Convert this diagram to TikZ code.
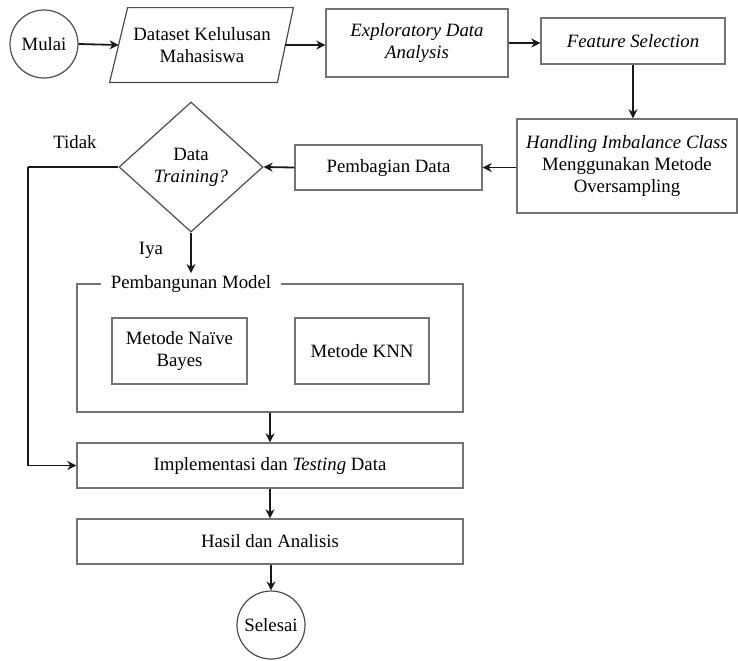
\documentclass[tikz,border=0pt]{standalone}
\usepackage{fontspec}
\setmainfont{LiberationSerif}[Extension=.ttf, UprightFont=*-Regular, ItalicFont=*-Italic, BoldFont=*-Bold, BoldItalicFont=*-BoldItalic]
\usetikzlibrary{shapes.geometric,arrows.meta,calc}
\tikzset{
  box/.style={draw=black!55, line width=0.7pt, rectangle, align=center, inner sep=0pt},
  plain/.style={rectangle, align=center, inner sep=0pt},
  term/.style={draw=black!70, line width=0.6pt, circle, inner sep=0pt, minimum size=34pt},
  decide/.style={draw=black!70, line width=0.6pt, diamond, align=center, inner sep=0pt, minimum width=72pt, minimum height=65pt},
  arr/.style={draw=black!90, line width=0.9pt, -{Stealth[length=4.5pt,width=4.5pt]}},
  ln/.style={draw=black!90, line width=0.9pt},
  lbl/.style={inner sep=1pt}
}
\begin{document}
\begin{tikzpicture}[x=0.5pt,y=-0.5pt,font=\rmfamily\fontsize{9.4}{10.9}\selectfont]
\useasboundingbox (0,0) rectangle (738,660);
% top row
\node[term] (mulai) at (44,44) {Mulai};
\node[plain, minimum width=83pt, minimum height=37pt] (dataset) at (202,45) {Dataset Kelulusan\\Mahasiswa};
\draw[draw=black!70, line width=0.6pt] ($(dataset.north west)+(9,0)$) -- ($(dataset.north east)+(8,0)$) -- ($(dataset.south east)-(8,0)$) -- ($(dataset.south west)-(9,0)$) -- cycle;
\node[box, minimum width=91pt, minimum height=34pt] (eda) at (417,43) {\textit{Exploratory Data}\\\textit{Analysis}};
\node[box, minimum width=92pt, minimum height=23pt] (feat) at (633,41) {\textit{Feature Selection}};
% second row
\node[box, minimum width=110pt, minimum height=47pt] (handle) at (627,166) {\textit{Handling Imbalance Class}\\Menggunakan Metode\\Oversampling};
\node[box, minimum width=93.5pt, minimum height=22.5pt] (bagi) at (388.5,167.5) {Pembagian Data};
\node[decide] (train) at (191,167) {Data\\\textit{Training?}};
\node[lbl] (tidak) at (75,142) {Tidak};
\node[lbl] (iya) at (151,250) {Iya};
% model group
\node[box, minimum width=193pt, minimum height=64pt] (group) at (270,348) {};
\node[fill=white, inner xsep=5pt, inner ysep=1pt] (glabel) at (191,284) {Pembangunan Model};
\node[box, minimum width=67.5pt, minimum height=33pt] (nb) at (179.5,351) {Metode Naïve\\Bayes};
\node[box, minimum width=67pt, minimum height=33pt] (knn) at (362,351) {Metode KNN};
% bottom
\node[box, minimum width=193pt, minimum height=22.5pt] (impl) at (270,465.5) {Implementasi dan \textit{Testing} Data};
\node[box, minimum width=193pt, minimum height=22.5pt] (hasil) at (270,541.5) {Hasil dan Analisis};
\node[term] (selesai) at (271,625) {Selesai};
\coordinate (leftc) at (28,167);
% connectors
\draw[arr] (mulai.east) -- (dataset.west);
\draw[arr] (dataset.east) -- (eda.west |- dataset.east);
\draw[arr] (eda.east) -- (feat.west |- eda.east);
\draw[arr] (feat.south) -- (feat.south |- handle.north);
\draw[arr] (handle.west |- bagi.east) -- (bagi.east);
\draw[arr] (bagi.west) -- (train.east);
\draw[arr] (train.south) -- (glabel.north -| train.south);
\draw[ln] (train.west) -- (leftc);
\draw[arr] (leftc) -- (leftc |- impl.west) -- (impl.west);
\draw[arr] (group.south -| impl.north) -- (impl.north);
\draw[arr] (impl.south) -- (hasil.north);
\draw[arr] (hasil.south -| selesai.north) -- (selesai.north);
\end{tikzpicture}
\end{document}
